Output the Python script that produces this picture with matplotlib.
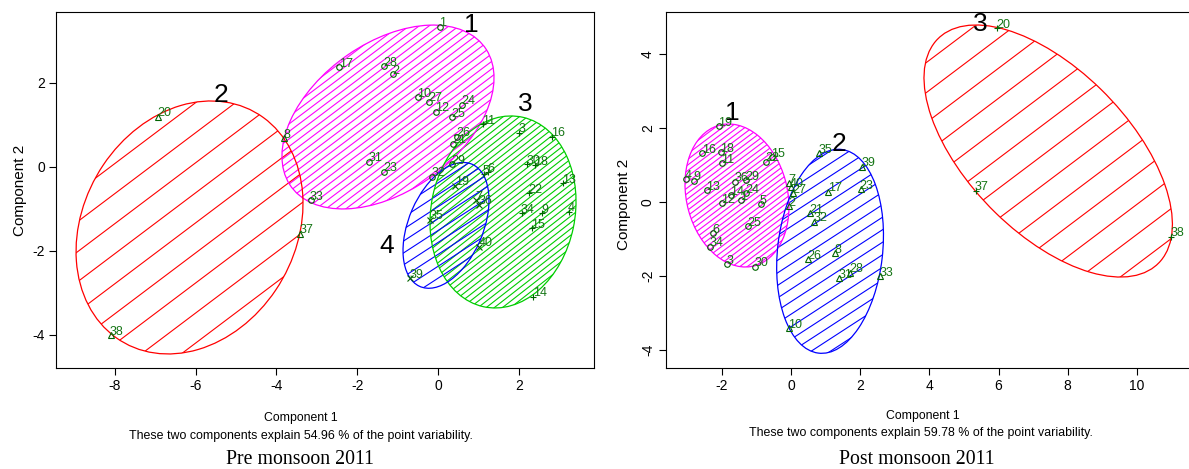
import matplotlib
matplotlib.use("Agg")
import matplotlib.pyplot as plt
import numpy as np
from matplotlib.patches import Ellipse
from matplotlib.collections import LineCollection

plt.rcParams['font.family'] = ['Liberation Sans', 'DejaVu Sans']

# ---------------- Pre monsoon 2011 (points 1..40) ----------------
pre_ids = list(range(1, 41))
pre_x = [0.05, -1.12, 2.01, 3.23, 1.13, 1.24, 0.95, -3.81, 2.58, -0.49,
         1.11, -0.05, 3.10, 2.36, 2.32, 2.81, -2.44, 2.40, 0.43, -6.94,
         0.38, 2.25, -1.34, 0.60, 0.34, 0.46, -0.22, -1.34, 0.35, 2.20,
         -1.70, -0.14, -3.15, 2.07, -0.20, 1.01, -3.42, -8.10, -0.69, 1.02]
pre_y = [3.34, 2.21, 0.82, -1.06, -0.17, -0.12, -0.79, 0.69, -1.10, 1.66,
         1.02, 1.32, -0.39, -3.09, -1.46, 0.72, 2.38, 0.04, -0.45, 1.20,
         0.55, -0.63, -0.11, 1.48, 1.18, 0.72, 1.55, 2.40, 0.07, 0.06,
         0.13, -0.23, -0.79, -1.10, -1.26, -0.90, -1.59, -4.00, -2.65, -1.90]
pre_cluster = [1, 1, 3, 3, 3, 3, 4, 2, 3, 1,
               3, 1, 3, 3, 3, 3, 1, 3, 4, 2,
               1, 3, 1, 1, 1, 1, 1, 1, 1, 3,
               1, 1, 1, 3, 4, 4, 2, 2, 4, 4]

# cluster ellipses: centre x, centre y, semi-axis a, semi-axis b, angle (deg)
pre_ell_cx = [-1.238, -6.15, 1.609, 0.198]
pre_ell_cy = [1.190, -1.44, -1.071, -1.390]
pre_ell_a = [2.916, 3.192, 2.307, 1.592]
pre_ell_b = [1.782, 2.602, 1.780, 0.917]
pre_ell_ang = [33.4, 55.1, 77.7, 65.5]
pre_lab_x = [0.82, -5.36, 2.15, -1.27]
pre_lab_y = [3.38, 1.71, 1.50, -1.88]
pre_var = 54.96

# ---------------- Post monsoon 2011 (points 1..40) ----------------
post_ids = list(range(1, 41))
post_x = [-1.45, -0.06, -1.84, -3.04, -0.88, -2.25, -0.05, 1.27, -2.79, -0.05,
          -2.00, -2.00, -2.44, -1.74, -0.56, -2.56, 1.08, -2.03, -2.08, 5.97,
          0.55, -0.73, 2.01, -1.30, -1.23, 0.49, 0.07, 1.71, -1.30, -1.04,
          1.39, 0.66, 2.57, -2.34, 0.82, -1.62, 5.34, 11.00, 2.06, -0.01]
post_y = [0.05, -0.11, -1.68, 0.61, -0.06, -0.85, 0.51, -1.38, 0.57, -3.41,
          1.05, -0.04, 0.32, 0.19, 1.21, 1.32, 0.28, 1.34, 2.05, 4.69,
          -0.31, 1.09, 0.34, 0.24, -0.65, -1.55, 0.24, -1.91, 0.59, -1.75,
          -2.06, -0.53, -2.01, -1.21, 1.32, 0.55, 0.31, -0.94, 0.95, 0.40]
post_cluster = [1, 2, 1, 1, 1, 1, 2, 2, 1, 2,
                1, 1, 1, 1, 1, 1, 2, 1, 1, 3,
                2, 1, 2, 1, 1, 2, 2, 2, 1, 1,
                2, 2, 2, 1, 2, 1, 3, 3, 2, 2]

post_ell_cx = [-1.561, 1.130, 7.436]
post_ell_cy = [0.176, -1.332, 1.378]
post_ell_a = [1.967, 2.772, 4.403]
post_ell_b = [1.457, 1.517, 2.259]
post_ell_ang = [-73.8, 82.9, -42.4]
post_lab_x = [-1.69, 1.39, 5.46]
post_lab_y = [2.41, 1.57, 4.82]
post_var = 59.78

FIG_W, FIG_H, DPI = 11.89, 4.69, 100
TXT_COL = '#157515'
PT_COL = '#006400'


def draw_cluster(ax, sx, sy, cx, cy, a, b, ang, color, spacing, hang):
    e = Ellipse((cx, cy), 2 * a, 2 * b, angle=ang, fill=False,
                edgecolor=color, lw=0.9, zorder=2)
    ax.add_patch(e)
    phi = np.deg2rad(hang)
    d = np.array([np.cos(phi) / sx, np.sin(phi) / sy])
    n = np.array([-np.sin(phi) / sx, np.cos(phi) / sy]) * spacing
    rad = max(a, b) * max(sx, sy) + 20
    k = int(rad / spacing) + 2
    c0 = np.array([cx, cy])
    segs = [[c0 + i * n - rad * d, c0 + i * n + rad * d] for i in range(-k, k + 1)]
    lc = LineCollection(segs, colors=color, lw=0.8, zorder=1)
    ax.add_collection(lc, autolim=False)
    lc.set_clip_path(e)


def panel(fig, rect, xlim, ylim, xt, yt, ids, xs, ys, cl, ecx, ecy, ea, eb, eang,
          colors, spacings, hangs, markers, labx, laby, rot_y):
    ax = fig.add_axes(rect)
    ax.set_xlim(xlim)
    ax.set_ylim(ylim)
    ax.autoscale(False)
    sx = rect[2] * FIG_W * DPI / (xlim[1] - xlim[0])
    sy = rect[3] * FIG_H * DPI / (ylim[1] - ylim[0])
    for i in range(len(ecx)):
        draw_cluster(ax, sx, sy, ecx[i], ecy[i], ea[i], eb[i], eang[i],
                     colors[i], spacings[i], hangs[i])
    for pid, x, y, c in zip(ids, xs, ys, cl):
        ax.plot(x, y, marker=markers[c - 1], ls='none', ms=4, mfc='none',
                mec=PT_COL, mew=0.8, zorder=3)
        ax.annotate(str(pid), (x, y), xytext=(-0.5, 0.3), textcoords='offset points',
                    ha='left', va='baseline', fontsize=9, color=TXT_COL, zorder=4)
    for i in range(len(labx)):
        ax.text(labx[i], laby[i], str(i + 1), fontsize=19, ha='center',
                va='center', color='black', zorder=5)
    ax.set_xticks(xt)
    ax.set_yticks(yt)
    ax.set_xticklabels([str(v) for v in xt])
    ax.set_yticklabels([str(v) for v in yt])
    ax.tick_params(direction='out', length=5, width=0.8, labelsize=10, pad=3)
    if rot_y:
        for lab in ax.get_yticklabels():
            lab.set_rotation(90)
            lab.set_va('center')
    for s in ax.spines.values():
        s.set_linewidth(0.8)
    return ax


fig = plt.figure(figsize=(FIG_W, FIG_H), dpi=DPI)

# left panel: pixel box 56..594 x 12..368
L_rect = [56 / 1189, 1 - 368 / 469, 538 / 1189, 356 / 469]
panel(fig, L_rect, (-9.455, 3.861), (-4.786, 3.69), [-8, -6, -4, -2, 0, 2], [-4, -2, 0, 2],
      pre_ids, pre_x, pre_y, pre_cluster, pre_ell_cx, pre_ell_cy, pre_ell_a, pre_ell_b,
      pre_ell_ang, ['#FF00FF', '#FF0000', '#00CD00', '#0000FF'], [6.0, 24.0, 5.0, 10.0],
      [37, 37, 38, 33], ['o', '^', '+', 'x'], pre_lab_x, pre_lab_y, False)

# right panel: pixel box 666..1195 x 12..368
R_rect = [666 / 1189, 1 - 368 / 469, 529 / 1189, 356 / 469]
panel(fig, R_rect, (-3.613, 11.68), (-4.486, 5.135), [-2, 0, 2, 4, 6, 8, 10], [-4, -2, 0, 2, 4],
      post_ids, post_x, post_y, post_cluster, post_ell_cx, post_ell_cy, post_ell_a, post_ell_b,
      post_ell_ang, ['#FF00FF', '#0000FF', '#FF0000'], [4.5, 10.5, 24.0],
      [37, 33, 37], ['o', '^', '+'], post_lab_x, post_lab_y, True)


def ftext(px, py, s, **kw):
    fig.text(px / 1189, 1 - py / 469, s, ha='center', va='center', **kw)


ftext(20, 190, 'Component 2', fontsize=11, rotation=90)
ftext(624, 204, 'Component 2', fontsize=11, rotation=90)
ftext(301, 418, 'Component 1', fontsize=8.8)
ftext(301, 436, 'These two components explain %.2f %% of the point variability.' % pre_var, fontsize=8.9)
ftext(923, 416, 'Component 1', fontsize=8.8)
ftext(921, 433, 'These two components explain %.2f %% of the point variability.' % post_var, fontsize=8.9)
ftext(300, 459, 'Pre monsoon 2011', fontsize=14.3, family=['Liberation Serif', 'DejaVu Serif'])
ftext(917, 459, 'Post monsoon 2011', fontsize=14.3, family=['Liberation Serif', 'DejaVu Serif'])

fig.savefig('out.png', dpi=DPI)
